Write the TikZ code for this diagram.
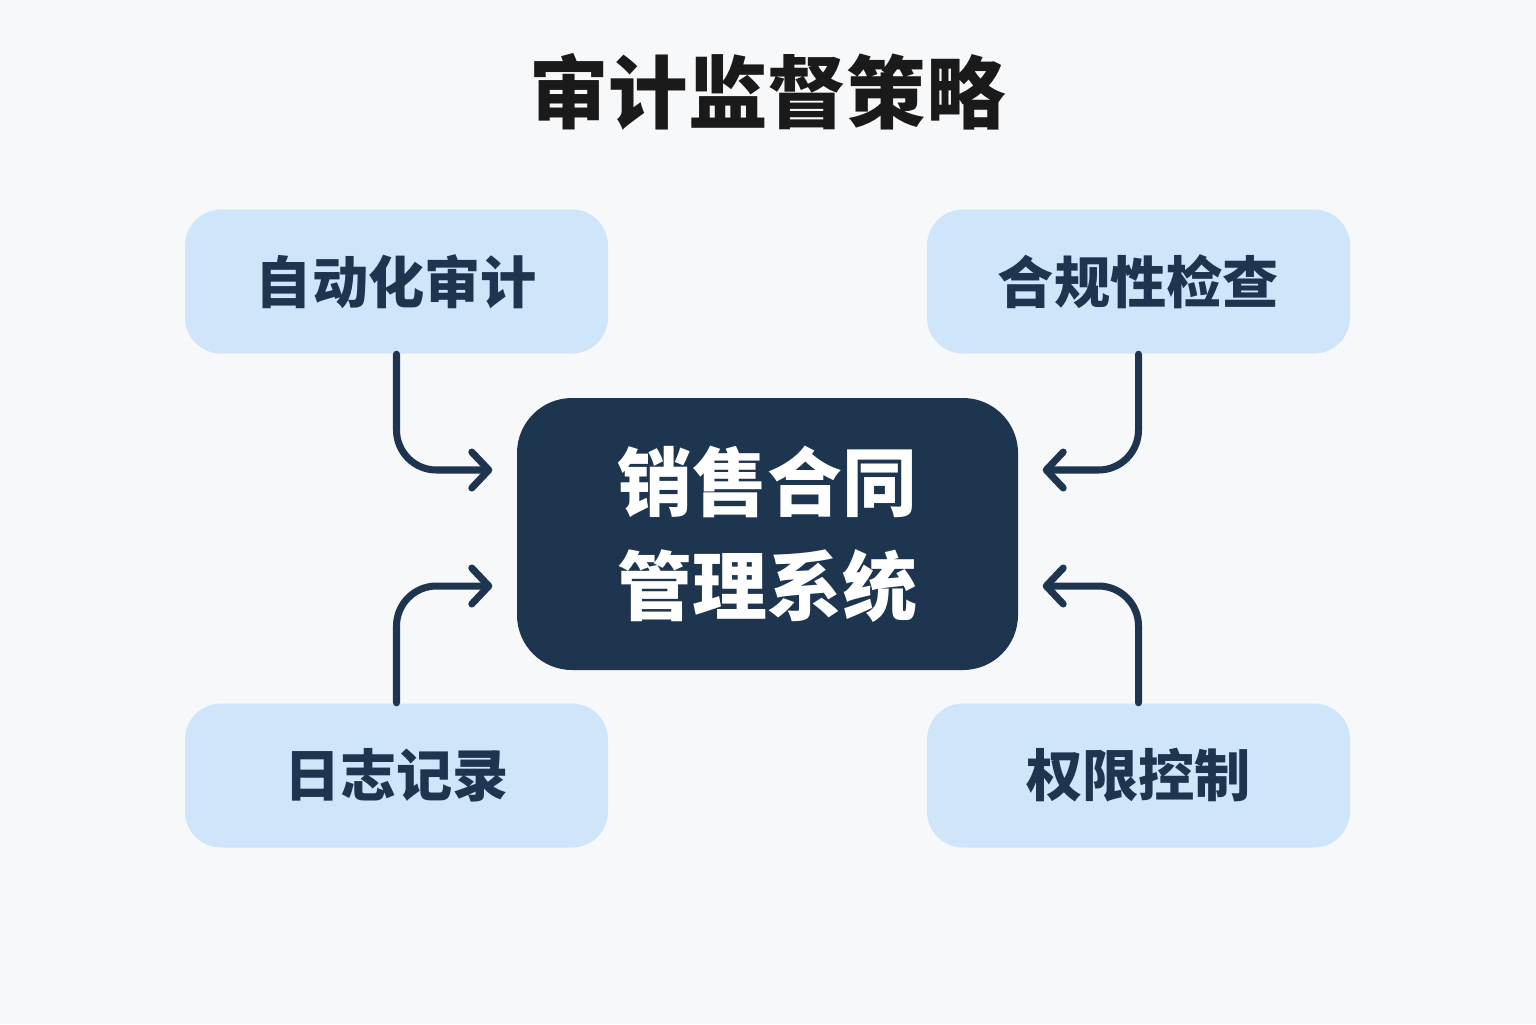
\documentclass[tikz,border=0pt]{standalone}
\usepackage{fontspec}
\setmainfont{Noto Sans CJK SC}
\usetikzlibrary{arrows.meta}

\definecolor{pagebg}{HTML}{F7F8FA}
\definecolor{navy}{HTML}{1E3550}
\definecolor{paleblue}{HTML}{CFE6FA}
\definecolor{titleink}{HTML}{1A1A1A}

\begin{document}
\begin{tikzpicture}[
    font=\bfseries,
    module/.style={
        rectangle, rounded corners=0.36cm,
        fill=paleblue, draw=none,
        minimum width=4.23cm, minimum height=1.44cm,
        align=center, text=navy,
        font=\bfseries\fontsize{16}{19}\selectfont
    },
    core/.style={
        rectangle, rounded corners=0.55cm,
        fill=navy, draw=none,
        minimum width=5.01cm, minimum height=2.72cm,
        align=center, text=white,
        font=\bfseries\fontsize{21.3}{29.6}\selectfont
    },
    heading/.style={text=titleink, font=\bfseries\fontsize{22.6}{27}\selectfont},
    flow/.style={-{Straight Barb[length=1.7mm, width=3.6mm, round]},
        line width=2pt, draw=navy, line cap=round, rounded corners=0.4cm}
]

% ============ Canvas ============
\fill[pagebg] (0,0) rectangle (15.36,-10.24);

% ============ Title ============
\node[heading] (title) at (7.675,-0.92) {审计监督策略};

% ============ Central system ============
\node[core] (system) at (7.675,-5.34) {销售合同\\管理系统};

% ============ Audit measures ============
\node[module] (autoaudit) at (3.965,-2.815) {自动化审计};
\node[module] (compliance) at (11.385,-2.815) {合规性检查};
\node[module] (logging) at (3.965,-7.755) {日志记录};
\node[module] (permission) at (11.385,-7.755) {权限控制};

% ============ Arrows into the system ============
\draw[flow] (autoaudit.south) |- ([xshift=-0.24cm, yshift=0.64cm]system.west);
\draw[flow] (compliance.south) |- ([xshift=0.24cm, yshift=0.64cm]system.east);
\draw[flow] (logging.north) |- ([xshift=-0.24cm, yshift=-0.52cm]system.west);
\draw[flow] (permission.north) |- ([xshift=0.24cm, yshift=-0.52cm]system.east);

\end{tikzpicture}
\end{document}
